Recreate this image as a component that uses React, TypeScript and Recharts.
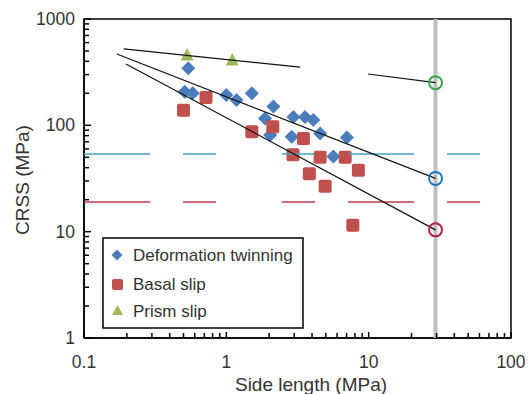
import React from 'react';
import { ScatterChart, Scatter, XAxis, YAxis, ReferenceArea } from 'recharts';

// ---- data ----
const deformationTwinning = [
  { x: 0.54, y: 344 }, { x: 0.51, y: 207 }, { x: 0.58, y: 200 }, { x: 1.0, y: 193 },
  { x: 1.18, y: 173 }, { x: 1.51, y: 200 }, { x: 2.14, y: 150 }, { x: 1.87, y: 116 },
  { x: 2.03, y: 81 }, { x: 2.96, y: 120 }, { x: 3.57, y: 120 }, { x: 4.09, y: 112 },
  { x: 4.56, y: 84 }, { x: 2.88, y: 78 }, { x: 7.03, y: 77 }, { x: 5.65, y: 51 },
];
const basalSlip = [
  { x: 0.5, y: 139 }, { x: 0.72, y: 183 }, { x: 1.51, y: 87 }, { x: 2.12, y: 97 },
  { x: 2.94, y: 53 }, { x: 3.48, y: 75 }, { x: 3.83, y: 35 }, { x: 4.56, y: 50 },
  { x: 4.95, y: 26.8 }, { x: 6.84, y: 50 }, { x: 8.47, y: 37.9 }, { x: 7.74, y: 11.5 },
];
const prismSlip = [{ x: 0.53, y: 458 }, { x: 1.1, y: 411 }];

const twinningTrend = [{ x: 0.17, y: 469 }, { x: 29.5, y: 31.7 }];
const basalTrend = [{ x: 0.197, y: 378 }, { x: 29.5, y: 10.4 }];
const prismTrendA = [{ x: 0.19, y: 523 }, { x: 3.3, y: 353 }];
const prismTrendB = [{ x: 9.9, y: 304 }, { x: 29.5, y: 252 }];

const extrapolatedPrism = [{ x: 29.5, y: 252 }];
const extrapolatedTwinning = [{ x: 29.5, y: 31.7 }];
const extrapolatedBasal = [{ x: 29.5, y: 10.4 }];

const twinningLevel = [{ x: 0.1, y: 53.7 }, { x: 100, y: 53.7 }];
const basalLevel = [{ x: 0.1, y: 19.0 }, { x: 100, y: 19.0 }];
const sideLengthMark = [{ x: 29.5, y: 1 }, { x: 29.5, y: 1000 }];

const xTicks = [0.1, 0.2, 0.3, 0.4, 0.5, 0.6, 0.7, 0.8, 0.9, 1, 2, 3, 4, 5, 6, 7, 8, 9, 10, 20, 30, 40, 50, 60, 70, 80, 90, 100];
const yTicks = [1, 2, 3, 4, 5, 6, 7, 8, 9, 10, 20, 30, 40, 50, 60, 70, 80, 90, 100, 200, 300, 400, 500, 600, 700, 800, 900, 1000];
const majorLabels: Record<string, string> = { '0.1': '0.1', '1': '1', '10': '10', '100': '100', '1000': '1000' };

const FONT = '"Liberation Sans", Arial, sans-serif';
const BLUE = '#4a7ebb';
const RED = '#c0504d';
const GREEN = '#9bbb59';

const isMajor = (v: number) => Math.abs(Math.log10(v) - Math.round(Math.log10(v))) < 1e-9;

const XTick = (props: any) => {
  const { x, y, payload } = props;
  const v = payload.value;
  const major = isMajor(v);
  return (
    <g>
      <line x1={x} x2={x} y1={y} y2={y - (major ? 6 : 5)} stroke="#000" strokeWidth={1.5} />
      {major && (
        <text x={x} y={y + 24} dy="0.35em" textAnchor="middle" fontSize={17.5} fontFamily={FONT} fill="#333">
          {majorLabels[String(v)]}
        </text>
      )}
    </g>
  );
};

const YTick = (props: any) => {
  const { x, y, payload } = props;
  const v = payload.value;
  const major = isMajor(v);
  return (
    <g>
      <line x1={x} x2={x + (major ? 7 : 5)} y1={y} y2={y} stroke="#000" strokeWidth={1.5} />
      {major && (
        <text x={x - 9} y={y} dy="0.35em" textAnchor="end" fontSize={17.5} fontFamily={FONT} fill="#333">
          {majorLabels[String(v)]}
        </text>
      )}
    </g>
  );
};

const DiamondShape = (p: any) => {
  const { cx, cy } = p;
  const r = 7;
  return <polygon points={`${cx},${cy - r} ${cx + r},${cy} ${cx},${cy + r} ${cx - r},${cy}`} fill={BLUE} />;
};
const SquareShape = (p: any) => {
  const { cx, cy } = p;
  const s = 13;
  return <rect x={cx - s / 2} y={cy - s / 2} width={s} height={s} rx={2} fill={RED} />;
};
const TriangleShape = (p: any) => {
  const { cx, cy } = p;
  return <polygon points={`${cx},${cy - 7} ${cx + 6.5},${cy + 5.5} ${cx - 6.5},${cy + 5.5}`} fill={GREEN} />;
};
const circleShape = (color: string) => (p: any) => (
  <circle cx={p.cx} cy={p.cy} r={6.5} fill="none" stroke={color} strokeWidth={2} />
);
const NoShape = () => <g />;

export default function App() {
  return (
    <div style={{ position: 'fixed', left: 0, top: 0, width: 528, height: 394, background: '#fff' }}>
      <ScatterChart width={528} height={394} margin={{ top: 19, right: 17, bottom: 16, left: 24 }}>
        <XAxis
          type="number" dataKey="x" scale="log" domain={[0.1, 100]} ticks={xTicks} interval={0}
          allowDataOverflow tick={XTick} tickLine={false} tickSize={0} tickMargin={0}
          axisLine={{ stroke: '#000', strokeWidth: 1.5 }} height={40}
        />
        <YAxis
          type="number" dataKey="y" scale="log" domain={[1, 1000]} ticks={yTicks} interval={0}
          allowDataOverflow tick={YTick} tickLine={false} tickSize={0} tickMargin={0}
          axisLine={{ stroke: '#000', strokeWidth: 1.5 }} width={60}
        />
        <Scatter data={sideLengthMark} shape={NoShape} line={{ stroke: '#bfbfbf', strokeWidth: 4 }} isAnimationActive={false} />
        <Scatter data={deformationTwinning} shape={DiamondShape} isAnimationActive={false} />
        <Scatter data={basalSlip} shape={SquareShape} isAnimationActive={false} />
        <Scatter data={prismSlip} shape={TriangleShape} isAnimationActive={false} />
        <Scatter data={twinningLevel} shape={NoShape} line={{ stroke: '#4a9fc9', strokeWidth: 1.6, strokeDasharray: '66 33 33 66 33 33' }} isAnimationActive={false} />
        <Scatter data={basalLevel} shape={NoShape} line={{ stroke: '#c23b54', strokeWidth: 1.6, strokeDasharray: '66 33 33 66 33 33' }} isAnimationActive={false} />
        <Scatter data={twinningTrend} shape={NoShape} line={{ stroke: '#111', strokeWidth: 1.2 }} isAnimationActive={false} />
        <Scatter data={basalTrend} shape={NoShape} line={{ stroke: '#111', strokeWidth: 1.2 }} isAnimationActive={false} />
        <Scatter data={prismTrendA} shape={NoShape} line={{ stroke: '#111', strokeWidth: 1.2 }} isAnimationActive={false} />
        <Scatter data={prismTrendB} shape={NoShape} line={{ stroke: '#111', strokeWidth: 1.2 }} isAnimationActive={false} />
        <Scatter data={extrapolatedPrism} shape={circleShape('#3aa648')} isAnimationActive={false} />
        <Scatter data={extrapolatedTwinning} shape={circleShape('#1a78c2')} isAnimationActive={false} />
        <Scatter data={extrapolatedBasal} shape={circleShape('#b8204a')} isAnimationActive={false} />
        <ReferenceArea x1={0.1} x2={100} y1={1} y2={1000} fill="none" stroke="#000" strokeWidth={1.5} ifOverflow="visible" />
      </ScatterChart>
      <svg width={528} height={394} style={{ position: 'absolute', left: 0, top: 0, pointerEvents: 'none' }}>
        <text x={311} y={384} dy="0.35em" textAnchor="middle" fontSize={19} fontFamily={FONT} fill="#333">
          Side length (MPa)
        </text>
        <text x={22} y={180} dy="0.35em" textAnchor="middle" fontSize={19} fontFamily={FONT} fill="#333" transform="rotate(-90 22 180)">
          CRSS (MPa)
        </text>
        <g transform="translate(103,238)">
          <rect x={0} y={0} width={200} height={90} fill="#fff" stroke="#000" strokeWidth={1.5} />
          <polygon points="14,11.5 19.5,17 14,22.5 8.5,17" fill={BLUE} />
          <text x={30} y={17} dy="0.35em" fontSize={17} fontFamily={FONT} fill="#333">Deformation twinning</text>
          <rect x={9} y={41} width={11} height={11} rx={2} fill={RED} />
          <text x={30} y={46} dy="0.35em" fontSize={17} fontFamily={FONT} fill="#333">Basal slip</text>
          <polygon points="14.5,67 20,77 9,77" fill={GREEN} />
          <text x={30} y={73} dy="0.35em" fontSize={17} fontFamily={FONT} fill="#333">Prism slip</text>
        </g>
      </svg>
    </div>
  );
}
